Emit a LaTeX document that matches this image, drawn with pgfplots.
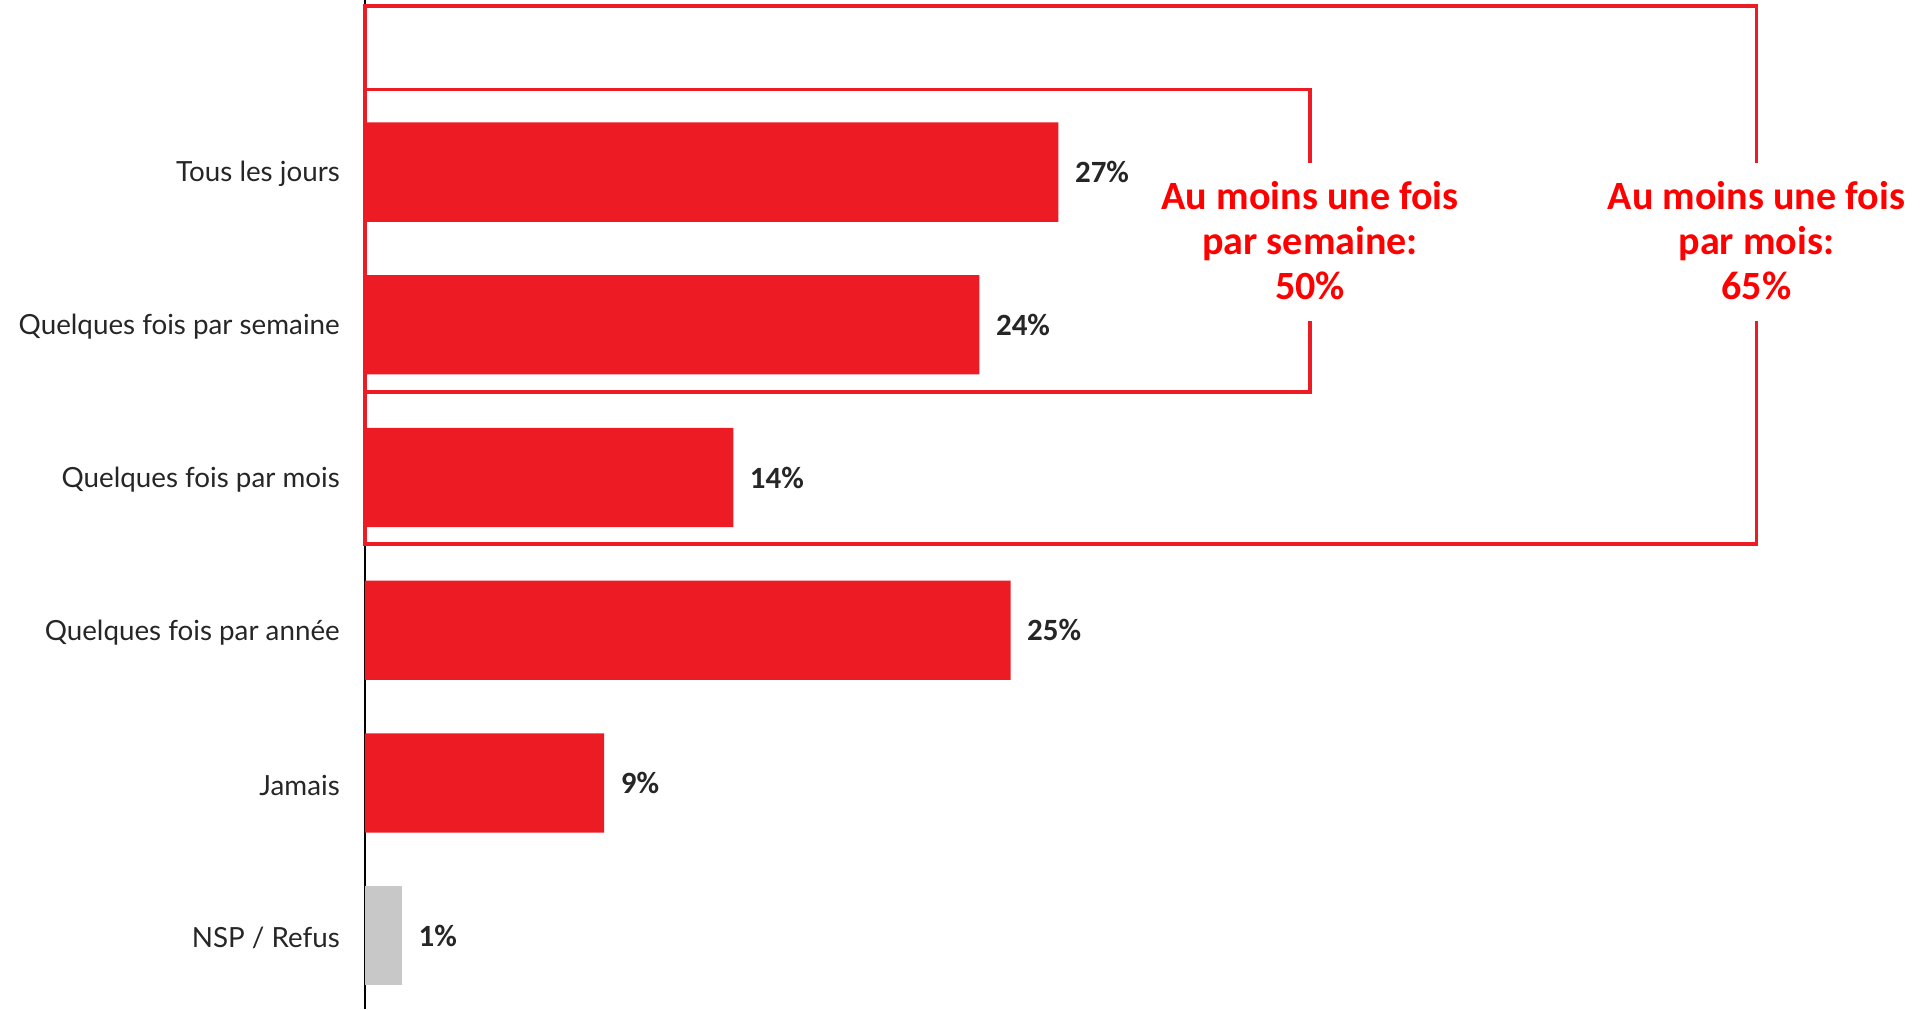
\documentclass[border=0pt]{standalone}
\usepackage{fontspec}
\setmainfont{Lato}
\newfontfamily\carlito{Carlito}
\usepackage{pgfplots}
\usepackage{pgfplotstable}
\pgfplotsset{compat=1.18}
\definecolor{barred}{HTML}{ED1C24}
\definecolor{bargrey}{HTML}{C8C8C8}
\definecolor{txt}{HTML}{262626}
\definecolor{annred}{HTML}{FF0000}

\pgfplotstableread{
c v lab
0 26.96 27
1 23.89 24
2 14.32 14
3 25.10 25
4 9.30 9
}\redbars
\pgfplotstableread{
c v lab
5 1.44 1
}\greybars

\begin{document}
\begin{tikzpicture}
\useasboundingbox (-3.65cm,0) rectangle (15.56cm,10.09cm);
\begin{axis}[
 at={(0,0)}, anchor=south west,
 scale only axis, width=15.56cm, height=10.09cm,
 xbar, bar width=0.65, bar shift=0pt,
 xmin=0, xmax=60.5, ymin=-1.127, ymax=5.48, y dir=reverse,
 axis x line=none, axis y line=left, axis line style={-, black, line width=0.4pt},
 ytick={0,...,5},
 yticklabels={Tous les jours, Quelques fois par semaine, Quelques fois par mois, Quelques fois par année, Jamais, NSP / Refus},
 major tick length=0pt,
 yticklabel style={font=\fontsize{7.9}{9}\selectfont, text=txt, inner sep=0pt, xshift=-0.245cm, yshift=-0.02cm},
 nodes near coords={\pgfplotspointmeta\%},
 point meta=explicit symbolic,
 nodes near coords style={anchor=west, inner sep=0pt, xshift=0.16cm, font=\carlito\bfseries\fontsize{8.8}{10}\selectfont, text=txt},
 clip=false,
]
\addplot[fill=barred, draw=none] table[x=v, y=c, meta=lab] {\redbars};
\addplot[fill=bargrey, draw=none] table[x=v, y=c, meta=lab] {\greybars};

\draw[barred, line width=1pt] (axis cs:36.75,-0.06) -- (axis cs:36.75,-0.541) -- (axis cs:0,-0.541) -- (axis cs:0,1.44) -- (axis cs:36.75,1.44) -- (axis cs:36.75,0.974);
\draw[barred, line width=1pt] (axis cs:54.1,-0.06) -- (axis cs:54.1,-1.087) -- (axis cs:0,-1.087) -- (axis cs:0,2.434) -- (axis cs:54.1,2.434) -- (axis cs:54.1,0.974);

\node[align=center, text=annred, font=\carlito\bfseries\fontsize{11.4}{12.7}\selectfont] at (axis cs:36.75,0.449) {Au moins une fois\\par semaine:\\50\%};
\node[align=center, text=annred, font=\carlito\bfseries\fontsize{11.4}{12.7}\selectfont] at (axis cs:54.1,0.449) {Au moins une fois\\par mois:\\65\%};
\end{axis}
\end{tikzpicture}
\end{document}
